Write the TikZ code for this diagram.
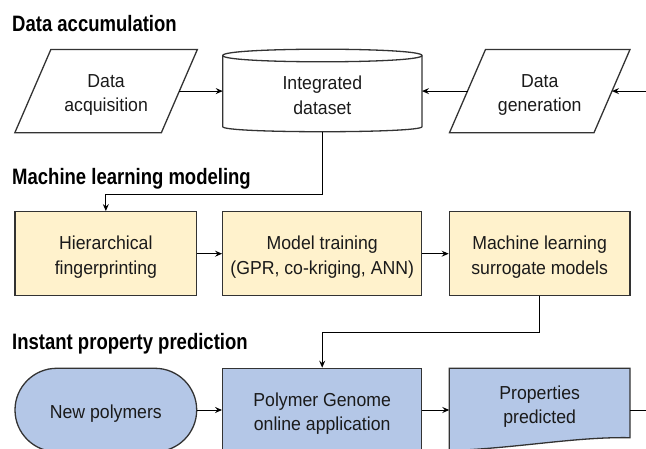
\documentclass[tikz,border=0pt]{standalone}
\usepackage{fontspec}
\newfontfamily\bodyfont{Liberation Sans}[FakeStretch=0.94]
\newfontfamily\headfont{Liberation Sans}[FakeStretch=0.83]
\usetikzlibrary{arrows.meta,calc,backgrounds}
\definecolor{fillY}{HTML}{FFF2CC}
\definecolor{fillB}{HTML}{B4C7E7}
\definecolor{edge}{HTML}{333333}
\definecolor{ink}{HTML}{1A1A1A}
% two-line and one-line labels with a fixed strut so all texts sit alike
\newcommand\twolines[2]{\rule{0pt}{21pt}#1\\#2\rule[-4pt]{0pt}{4pt}}
\newcommand\oneline[1]{\rule{0pt}{21pt}#1\rule[-4pt]{0pt}{4pt}}
\begin{document}
\begin{tikzpicture}[x=1pt,y=-1pt,
  body/.style={font=\bodyfont\fontsize{18.8}{24.4}\selectfont, text=ink, align=center, inner sep=0pt},
  outline/.style={draw=edge, line width=1.3pt, line join=miter},
  block/.style={body, outline, rectangle, minimum height=84pt},
  slot/.style={body, rectangle, outer sep=0pt, minimum width=#1},
  title/.style={font=\headfont\bfseries\fontsize{22.3}{26}\selectfont, anchor=base west, inner sep=0pt},
  link/.style={line width=1pt, draw=black},
  arr/.style={link, -{Stealth[length=7pt,width=6pt,inset=2.5pt]}},
]
\useasboundingbox (0,0) rectangle (646,449);

% section headings
\node[title] (t1) at (12,32) {Data accumulation};
\node[title] (t2) at (12,185) {Machine learning modeling};
\node[title] (t3) at (12,350) {Instant property prediction};

% data accumulation row
\node[slot=146.5pt, minimum height=83.2pt] (acq) at (106.1,91.1) {\twolines{Data}{acquisition}};
\node[slot=199.3pt, minimum height=76.2pt] (cyl) at (322.35,93.6) {\twolines{Integrated}{dataset}};
\node[slot=144.5pt, minimum height=83.2pt] (gen) at (539.75,91.1) {\twolines{Data}{generation}};

% parallelograms
\draw[outline] ([xshift=18pt]acq.north west) -- ([xshift=18pt]acq.north east)
  -- ([xshift=-18pt]acq.south east) -- ([xshift=-18pt]acq.south west) -- cycle;
\draw[outline] ([xshift=18pt]gen.north west) -- ([xshift=18pt]gen.north east)
  -- ([xshift=-18pt]gen.south east) -- ([xshift=-18pt]gen.south west) -- cycle;

% database cylinder
\draw[outline] (cyl.north west) .. controls +(0,-8.4) and +(0,-8.4) .. (cyl.north east)
  -- ($(cyl.south east)+(0,-5)$) .. controls +(0,6.7) and +(0,6.7) .. ($(cyl.south west)+(0,-5)$)
  -- cycle;
\draw[outline] (cyl.north west) .. controls +(0,8.4) and +(0,8.4) .. (cyl.north east);

% machine learning row
\node[block, fill=fillY, minimum width=181.7pt] (hier) at (105.85,253.7) {\twolines{Hierarchical}{fingerprinting}};
\node[block, fill=fillY, minimum width=199pt] (train) at (322.2,253.7) {\twolines{Model training}{(GPR, co-kriging, ANN)}};
\node[block, fill=fillY, minimum width=180.7pt] (surr) at (539.65,253.7) {\twolines{Machine learning}{surrogate models}};

% prediction row
\node[block, fill=fillB, minimum width=181.7pt, minimum height=83.4pt, rounded corners=41.7pt] (newp) at (105.85,410) {\oneline{New polymers}};
\node[block, fill=fillB, minimum width=199pt, minimum height=83.4pt] (pg) at (322.2,410) {\twolines{Polymer Genome}{online application}};
\node[slot=180.7pt, minimum height=69.4pt] (prop) at (539.65,403) {\twolines{Properties}{predicted}};
\begin{pgfonlayer}{background}
\draw[outline, fill=fillB] (prop.north west) -- (prop.north east) -- (prop.south east)
  .. controls +(-55,-1) and +(70.7,-2.7) .. ($(prop.south west)+(0,13)$) -- cycle;
\end{pgfonlayer}

% loose ends at the right border
\coordinate (rin) at (652,91.1);
\coordinate (rout) at (652,410);

% connectors
\draw[arr] (acq.east) -- (acq.east -| cyl.west);
\draw[arr] (gen.west) -- (gen.west -| cyl.east);
\draw[arr] (rin) -- (rin -| gen.east);
\draw[arr] (cyl.south) -- ++(0,62.6) -| (hier.north);
\draw[arr] (hier.east) -- (train.west);
\draw[arr] (train.east) -- (surr.west);
\draw[arr] (surr.south) -- ++(0,36) -| (pg.north);
\draw[arr] (newp.east) -- (pg.west);
\draw[arr] (pg.east) -- (pg.east -| prop.west);
\draw[link] (pg.east -| prop.east) -- (rout);
\end{tikzpicture}
\end{document}
